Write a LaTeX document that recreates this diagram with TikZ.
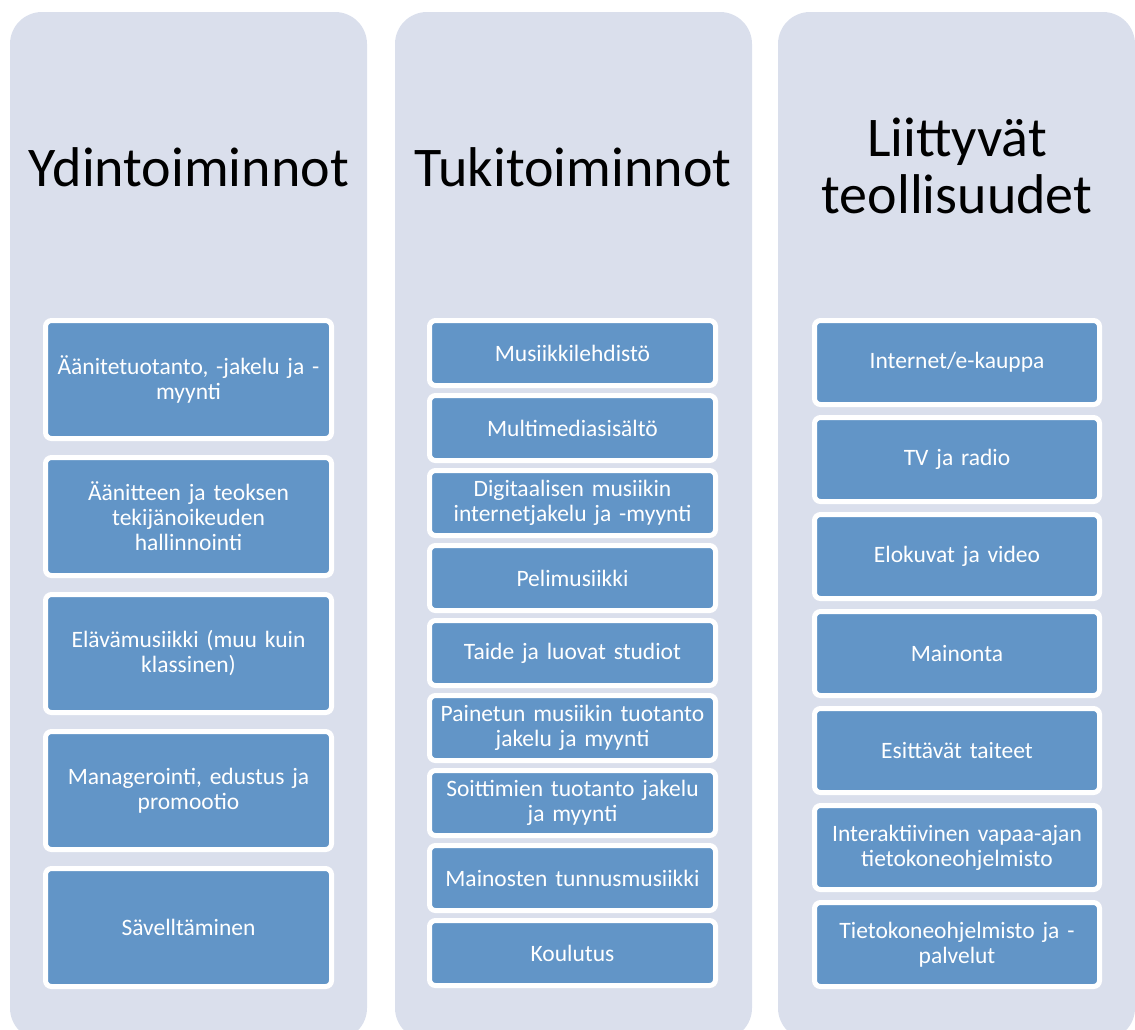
\documentclass[tikz,border=0pt]{standalone}
\usepackage{fontspec}
\setmainfont{Carlito}
\definecolor{colbg}{RGB}{218,223,236}
\definecolor{boxblue}{RGB}{98,149,199}
\begin{document}
\begin{tikzpicture}[x=1pt,y=-1pt,
  colshape/.style={fill=colbg, rounded corners=32pt},
  title/.style={font=\fontsize{56}{57}\selectfont, text=black, align=center, inner sep=0pt, anchor=base},
  item/.style={draw=white, line width=5pt, fill=boxblue, rounded corners=6pt, text=white,
    font=\fontsize{23.5}{25}\selectfont, align=center, inner sep=2pt, text width=270pt},
  itemA/.style={item, minimum width=286pt, minimum height=118pt},
  itemB/.style={item, minimum width=286pt, minimum height=65pt},
  itemC/.style={item, minimum width=285pt, minimum height=84pt}]
\useasboundingbox (0,0) rectangle (1135,1029);
\clip (0,0) rectangle (1135,1029);
% columns
\path[colshape] (10,12) rectangle (367,1040);
\path[colshape] (395,12) rectangle (752,1040);
\path[colshape] (778,12) rectangle (1135,1040);
% titles
\node[title] (t1) at (189,186) {Ydintoiminnot};
\node[title] (t2) at (573,186) {Tukitoiminnot};
\node[title] (t3) at (957,213) {Liittyvät\\teollisuudet};
% column 1
\node[itemA] (a1) at (188.5,379.5) {Äänitetuotanto, -jakelu ja -\\myynti};
\node[itemA] (a2) at (188.5,516.5) {Äänitteen ja teoksen\\tekijänoikeuden\\hallinnointi};
\node[itemA] (a3) at (188.5,653.5) {Elävämusiikki (muu kuin\\klassinen)};
\node[itemA] (a4) at (188.5,790.5) {Managerointi, edustus ja\\promootio};
\node[itemA] (a5) at (188.5,927.5) {Sävelltäminen};
% column 2
\node[itemB] (b1) at (572.5,353) {Musiikkilehdistö};
\node[itemB] (b2) at (572.5,428) {Multimediasisältö};
\node[itemB] (b3) at (572.5,503) {Digitaalisen musiikin\\internetjakelu ja -myynti};
\node[itemB] (b4) at (572.5,578) {Pelimusiikki};
\node[itemB] (b5) at (572.5,653) {Taide ja luovat studiot};
\node[itemB] (b6) at (572.5,728) {Painetun musiikin tuotanto\\jakelu ja myynti};
\node[itemB] (b7) at (572.5,803) {Soittimien tuotanto jakelu\\ja myynti};
\node[itemB] (b8) at (572.5,878) {Mainosten tunnusmusiikki};
\node[itemB] (b9) at (572.5,953) {Koulutus};
% column 3
\node[itemC] (c1) at (957,362.5) {Internet/e-kauppa};
\node[itemC] (c2) at (957,459.5) {TV ja radio};
\node[itemC] (c3) at (957,556.5) {Elokuvat ja video};
\node[itemC] (c4) at (957,653.5) {Mainonta};
\node[itemC] (c5) at (957,750.5) {Esittävät taiteet};
\node[itemC] (c6) at (957,847.5) {Interaktiivinen vapaa-ajan\\tietokoneohjelmisto};
\node[itemC] (c7) at (957,944.5) {Tietokoneohjelmisto ja -\\palvelut};
\end{tikzpicture}
\end{document}
